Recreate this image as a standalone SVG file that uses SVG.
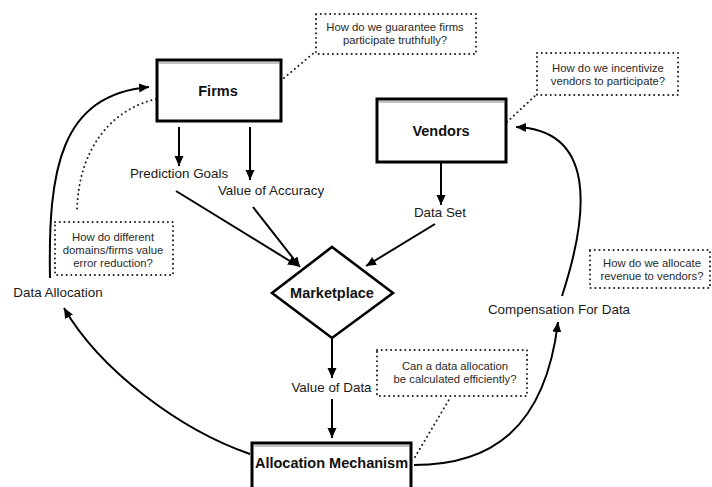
<svg xmlns="http://www.w3.org/2000/svg" width="712" height="487" viewBox="0 0 712 487">
<defs>
<marker id="ah" markerUnits="userSpaceOnUse" markerWidth="11" markerHeight="10" refX="10" refY="4.5" orient="auto">
<path d="M0,0 L10,4.5 L0,9 z" fill="#000"/>
</marker>
<style>
.box{fill:#fff;stroke:#000;stroke-width:3}
.shade{stroke:#c4c4c4;stroke-width:2}
.bold{font-family:"Liberation Sans",Arial,sans-serif;font-weight:bold;font-size:14.5px;fill:#111;text-anchor:middle}
.lbl{font-family:"Liberation Sans",Arial,sans-serif;font-size:13.4px;fill:#1a1a1a;text-anchor:middle}
.note{font-family:"Liberation Sans",Arial,sans-serif;font-size:11.3px;fill:#2a2a2a;text-anchor:middle}
.dotbox{fill:#fff;stroke:#222;stroke-width:2;stroke-dasharray:0.1 4.6;stroke-linecap:round}
.dot{fill:none;stroke:#222;stroke-width:2;stroke-dasharray:0.1 4.6;stroke-linecap:round}
.arr{fill:none;stroke:#000;stroke-width:2;marker-end:url(#ah)}
.ln{fill:none;stroke:#000;stroke-width:2}
</style>
</defs>
<rect width="712" height="487" fill="#fff"/>

<g id="connectors">
<line class="arr" x1="179" y1="127" x2="179" y2="166"/>
<line class="arr" x1="250" y1="127" x2="250" y2="180"/>
<line class="arr" x1="441" y1="163" x2="441" y2="205"/>
<line class="arr" x1="176" y1="191" x2="298" y2="266"/>
<line class="arr" x1="253" y1="207" x2="300" y2="267"/>
<line class="arr" x1="435" y1="224" x2="366" y2="266"/>
<line class="arr" x1="332" y1="339" x2="332" y2="378"/>
<line class="arr" x1="332" y1="399" x2="332" y2="438"/>
<path class="arr" d="M250 454 C180 430 100 370 64 308"/>
<path class="arr" d="M50 278 C48 170 60 95 149 87"/>
<path class="arr" d="M414 465 C490 465 545 430 558 322"/>
<path class="arr" d="M562 296 C590 210 595 130 516 127"/>
<path class="dot" d="M156 99 C110 110 78 150 77 212"/>
<line class="dot" x1="284" y1="78" x2="316" y2="51"/>
<line class="dot" x1="507" y1="122" x2="537" y2="94"/>
<line class="dot" x1="415" y1="457" x2="450" y2="398"/>
</g>

<g id="firms">
<rect class="box" x="157" y="60" width="124" height="61"/>
<line class="shade" x1="159" y1="63" x2="279" y2="63"/>
<text class="bold" x="218" y="96">Firms</text>
</g>

<g id="vendors">
<rect class="box" x="377" y="99" width="129" height="63"/>
<line class="shade" x1="379" y1="102" x2="504" y2="102"/>
<text class="bold" x="441" y="136">Vendors</text>
</g>

<g id="marketplace">
<polygon points="332,247 393,293 332,338 272,293" fill="#fff" stroke="#000" stroke-width="2.6" stroke-linejoin="miter"/>
<text class="bold" x="332" y="298">Marketplace</text>
</g>

<g id="allocation-mechanism">
<rect class="box" x="252" y="443" width="159" height="52"/>
<line class="shade" x1="254" y1="446" x2="409" y2="446"/>
<text class="bold" x="331.5" y="468">Allocation Mechanism</text>
</g>

<g id="labels">
<text class="lbl" x="179" y="178">Prediction Goals</text>
<text class="lbl" x="271" y="195">Value of Accuracy</text>
<text class="lbl" x="440" y="217">Data Set</text>
<text class="lbl" x="58" y="297">Data Allocation</text>
<text class="lbl" x="559" y="314">Compensation For Data</text>
<text class="lbl" x="331.5" y="392">Value of Data</text>
</g>

<g id="note-firms">
<rect class="dotbox" x="316" y="14" width="160" height="40"/>
<text class="note" x="395" y="31">How do we guarantee firms</text>
<text class="note" x="395" y="44">participate truthfully?</text>
</g>

<g id="note-vendors">
<rect class="dotbox" x="537" y="53" width="141" height="42"/>
<text class="note" x="608" y="72">How do we incentivize</text>
<text class="note" x="608" y="85">vendors to participate?</text>
</g>

<g id="note-domains">
<rect class="dotbox" x="55" y="222" width="118" height="53"/>
<text class="note" x="113" y="241">How do different</text>
<text class="note" x="113" y="254">domains/firms value</text>
<text class="note" x="113" y="267">error reduction?</text>
</g>

<g id="note-revenue">
<rect class="dotbox" x="590" y="250" width="120" height="38"/>
<text class="note" x="652" y="267">How do we allocate</text>
<text class="note" x="652" y="280">revenue to vendors?</text>
</g>

<g id="note-efficient">
<rect class="dotbox" x="377" y="350" width="150" height="46"/>
<text class="note" x="455" y="370">Can a data allocation</text>
<text class="note" x="455" y="383">be calculated efficiently?</text>
</g>
</svg>
